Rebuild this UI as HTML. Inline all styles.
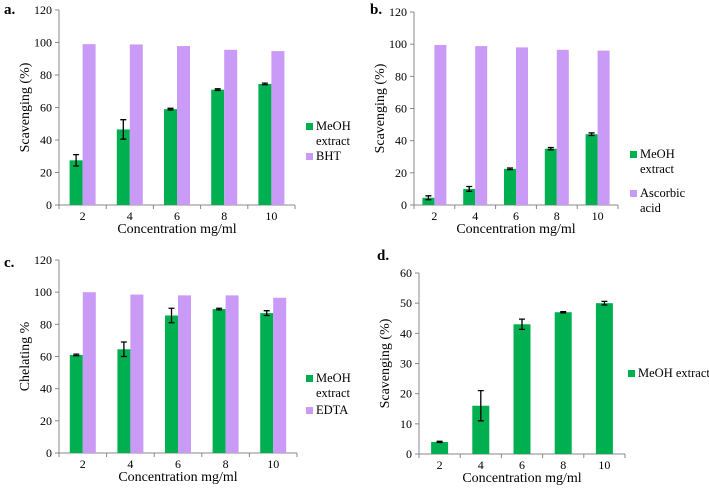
<!DOCTYPE html>
<html><head><meta charset="utf-8"><style>
body{margin:0;background:#fff;width:709px;height:488px;overflow:hidden}
svg text{font-family:"Liberation Serif",serif}
</style></head><body>
<svg id="s" width="709" height="488"></svg>
<script>
const cats=["2","4","6","8","10"];
const aMeoh=[27.5,46.5,59,71,74.5];
const aMeohErr=[3.5,6,0.5,0.5,0.5];
const aBht=[99,98.8,97.8,95.5,94.7];
const bMeoh=[4.5,10,22.5,35,44];
const bMeohErr=[1.2,1.5,0.5,0.7,0.8];
const bAsc=[99.5,98.8,98,96.5,96];
const cMeoh=[61,64.5,85.5,89.5,87];
const cMeohErr=[0.5,4.5,4.5,0.5,1.5];
const cEdta=[100,98.5,98,98,96.5];
const dMeoh=[4,16,43,47,50];
const dMeohErr=[0.2,5,1.7,0.2,0.6];
const ticks120=[0,20,40,60,80,100,120];
const ticks60=[0,10,20,30,40,50,60];
const G="#00b050",P="#c99bf7";
const svg=document.getElementById('s');
const NS="http://www.w3.org/2000/svg";
function el(t,a,txt){const e=document.createElementNS(NS,t);for(const k in a)e.setAttribute(k,a[k]);if(txt!==undefined){e.textContent=txt;e.setAttribute('font-family','Liberation Serif, serif');}svg.appendChild(e);return e;}
function panel(p){
  const y=v=>p.y0-(v/p.max)*(p.y0-p.yTop);
  const cw=(p.x1-p.x0)/cats.length;
  const x=i=>p.x0+cw*(i+0.5);
  let e=el('text',{x:p.lx,y:p.ly,'font-size':15,'font-weight':'bold'},p.letter);
  
  e=el('line',{x1:p.x0,y1:p.yTop,x2:p.x0,y2:p.y0,stroke:'#888'});
  
  e=el('line',{x1:p.x0,y1:p.y0,x2:p.x1,y2:p.y0,stroke:'#888'});
  
  p.ticks.forEach(t=>{
    el('line',{x1:p.x0-4,y1:y(t),x2:p.x0,y2:y(t),stroke:'#888'});
    e=el('text',{x:p.x0-7,y:y(t)+4,'font-size':12,'text-anchor':'end'},t);
    
  });
  for(let i=0;i<=cats.length;i++)el('line',{x1:p.x0+cw*i,y1:p.y0,x2:p.x0+cw*i,y2:p.y0+4,stroke:'#888'});
  cats.forEach((c,i)=>{
    e=el('text',{x:x(i),y:p.y0+15,'font-size':12,'text-anchor':'middle'},c);
    
  });
  e=el('text',{x:(p.x0+p.x1)/2,y:p.y0+28,'font-size':14,'text-anchor':'middle'},'Concentration mg/ml');
  
  const ym=(p.y0+p.yTop)/2;
  e=el('text',{x:p.x0-30,y:ym,'font-size':14,'text-anchor':'middle',transform:`rotate(-90 ${p.x0-30} ${ym})`},p.ytitle);
  
  const two=!!p.s2;
  p.s1.forEach((v,i)=>{
    const bx=two?x(i)-p.bw:x(i)-p.bw/2;
    e=el('rect',{x:bx,y:y(v),width:p.bw,height:p.y0-y(v),fill:G});
    
    const cx=bx+p.bw/2,er=p.err[i];
    e=el('path',{d:`M${cx} ${y(v+er)}V${y(v-er)}M${cx-3} ${y(v+er)}h6M${cx-3} ${y(v-er)}h6`,stroke:'#000','stroke-width':1.3,fill:'none'});
    
    if(two){
      const w=p.s2[i];
      e=el('rect',{x:x(i),y:y(w),width:p.bw,height:p.y0-y(w),fill:P});
      
    }
  });
  p.legend.forEach((L,k)=>{
    e=el('rect',{x:L.x,y:L.y-7,width:7,height:7,fill:k?P:G});
    
    L.lines.forEach((t,j)=>{
      e=el('text',{x:L.x+10,y:L.y+j*15,'font-size':12.5},t);
      
    });
  });
}
panel({id:'a',letter:'a.',lx:4,ly:14,x0:59,x1:295,y0:205,yTop:10,max:120,ticks:ticks120,bw:13,ytitle:'Scavenging (%)',
  s1:aMeoh,err:aMeohErr,s2:aBht,legend:[{x:306,y:130,lines:['MeOH','extract']},{x:306,y:160,lines:['BHT']}]});
panel({id:'b',letter:'b.',lx:370,ly:14,x0:414,x1:618,y0:205,yTop:12,max:120,ticks:ticks120,bw:12,ytitle:'Scavenging (%)',
  s1:bMeoh,err:bMeohErr,s2:bAsc,legend:[{x:630,y:158,lines:['MeOH','extract']},{x:630,y:197,lines:['Ascorbic','acid']}]});
panel({id:'c',letter:'c.',lx:4,ly:267,x0:59,x1:297,y0:453,yTop:260,max:120,ticks:ticks120,bw:13,ytitle:'Chelating  %',
  s1:cMeoh,err:cMeohErr,s2:cEdta,legend:[{x:306,y:382,lines:['MeOH','extract']},{x:306,y:414,lines:['EDTA']}]});
panel({id:'d',letter:'d.',lx:377,ly:260,x0:419,x1:625,y0:454,yTop:273,max:60,ticks:ticks60,bw:17,ytitle:'Scavenging (%)',
  s1:dMeoh,err:dMeohErr,legend:[{x:628,y:377,lines:['MeOH extract']}]});
</script>
</body></html>
